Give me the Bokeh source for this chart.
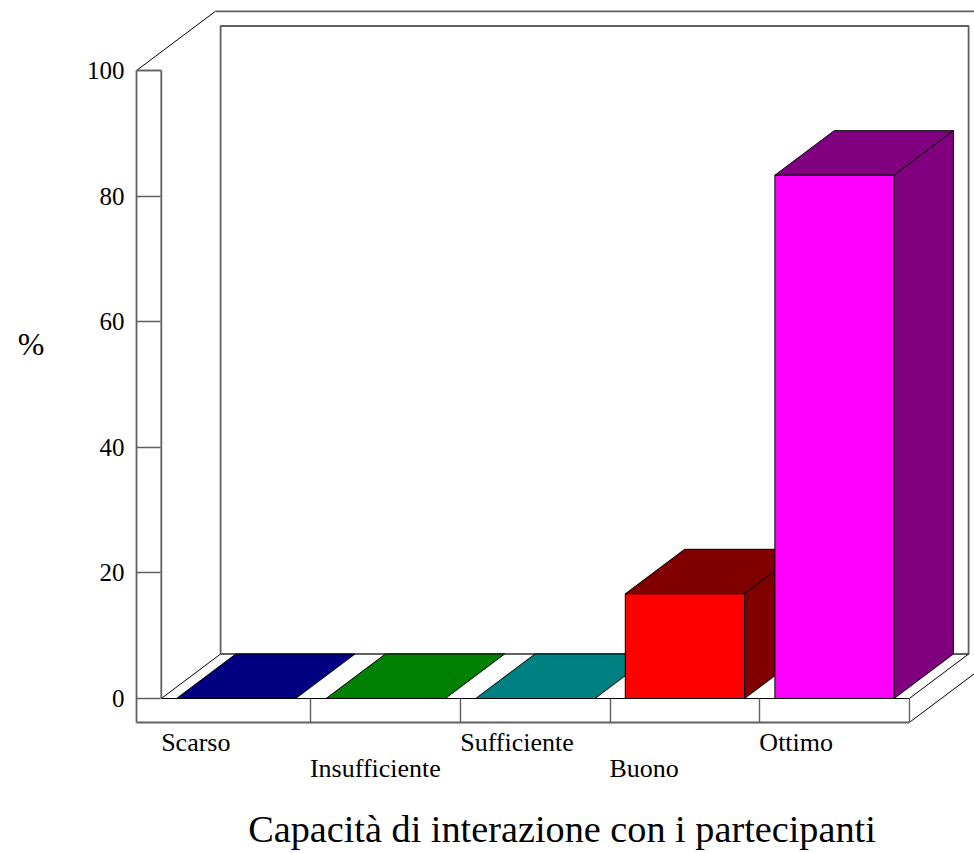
from bokeh.plotting import figure
from bokeh.models import FixedTicker, LinearAxis, Range1d
from bokeh.embed import file_html
from bokeh.resources import INLINE

categories = ["Scarso", "Insufficiente", "Sufficiente", "Buono", "Ottimo"]
label_widths_px = [69, 129, 113, 68, 73]
values = [0, 0, 0, 16.67, 83.33]
front_colors = ["#000080", "#008000", "#008080", "#FF0000", "#FF00FF"]
depth_colors = ["#000080", "#008000", "#008080", "#800000", "#800080"]
y_ticks = [0, 20, 40, 60, 80, 100]
x_title = "Capacità di interazione con i partecipanti"
y_title = "%"

FONT = "Liberation Serif"
PX_X = 149.6            # px per category
PX_Y = 6.28             # px per percent
DX = 59.3 / PX_X        # depth offset in category units
DY = 44.5 / PX_Y        # depth offset in percent units
TX = 24.8 / PX_X        # thickness of the axis strip
TY = 24.0 / PX_Y
KO = 1.33               # outer depth factor
N = len(categories)
BAR_W = 0.797

x_start = -TX
x_end = (974 - 160.8) / PX_X
y_start = -TY
y_end = 100 + 70 / PX_Y

p = figure(width=974, height=853, output_backend="svg", toolbar_location=None,
           x_range=Range1d(x_start, x_end), y_range=Range1d(y_start, y_end),
           min_border_left=136, min_border_right=0, min_border_top=0, min_border_bottom=131,
           background_fill_color="white", outline_line_color=None)
p.grid.visible = False

WALL = "#606060"
ya = p.yaxis[0]
ya.ticker = FixedTicker(ticks=y_ticks)
ya.bounds = (y_start, 100)
ya.major_tick_in = 24
ya.major_tick_out = 0
ya.minor_tick_line_color = None
ya.axis_line_color = WALL
ya.axis_line_width = 1.8
ya.major_tick_line_color = WALL
ya.major_tick_line_width = 1.4
ya.major_label_standoff = 12
ya.major_label_text_font = FONT
ya.major_label_text_font_size = "25px"
ya.major_label_text_color = "black"

xa = p.xaxis[0]
xa.ticker = FixedTicker(ticks=list(range(1, N + 1)))
xa.bounds = (x_start, N)
xa.major_tick_in = 24
xa.major_tick_out = 0
xa.minor_tick_line_color = None
xa.axis_line_color = WALL
xa.axis_line_width = 1.8
xa.major_tick_line_color = WALL
xa.major_tick_line_width = 1.4
xa.major_label_standoff = 0
xa.major_label_text_font_size = "1px"
xa.major_label_overrides = {i: "" for i in range(1, N + 1)}


def text_axis(side, ticks, labels, standoff, size):
    ax = LinearAxis(ticker=FixedTicker(ticks=ticks),
                    major_label_overrides=dict(zip(ticks, labels)),
                    major_label_standoff=standoff,
                    major_label_text_font=FONT, major_label_text_font_size=size,
                    major_label_text_color="black",
                    axis_line_color=None, major_tick_line_color=None,
                    minor_tick_line_color=None, major_tick_in=0, major_tick_out=0)
    p.add_layout(ax, side)
    return ax


centres = [i + w / 2 / PX_X for i, w in enumerate(label_widths_px)]
text_axis("below", centres[0::2], categories[0::2], 5, "26px")
text_axis("below", centres[1::2], categories[1::2], -6, "26px")
text_axis("below", [(561.5 - 160.8) / PX_X], [x_title], 22, "38.25px")
text_axis("left", [(698 - 343) / PX_Y], [y_title], 39, "32px")

wx = [[DX, DX, N + DX, N + DX, DX],
      [0, DX], [0, N], [N, N + DX],
      [0, 0], [x_start, 0],
      [x_start, x_start + KO * DX],
      [x_start + KO * DX, x_end + 1],
      [N, N + KO * DX]]
wy = [[DY, 100 + DY, 100 + DY, DY, DY],
      [0, DY], [0, 0], [0, DY],
      [0, 100], [100, 100],
      [100, 100 + KO * DY],
      [100 + KO * DY, 100 + KO * DY],
      [y_start, y_start + KO * DY]]
wc = [WALL, "black", "black", "black", WALL, WALL, "black", WALL, "black"]
ww = [1.8, 1, 1, 1, 1.8, 1.4, 1, 1.8, 1]
p.multi_line(wx, wy, line_color=wc, line_width=ww)

left = [i + (1 - BAR_W) / 2 for i in range(N)]
right = [l + BAR_W for l in left]

top_xs = [[l, l + DX, r + DX, r] for l, r in zip(left, right)]
top_ys = [[v, v + DY, v + DY, v] for v in values]
side_idx = [i for i, v in enumerate(values) if v > 0]
side_xs = [[right[i], right[i] + DX, right[i] + DX, right[i]] for i in side_idx]
side_ys = [[0, DY, values[i] + DY, values[i]] for i in side_idx]

p.patches(top_xs, top_ys, fill_color=depth_colors, line_color="black", line_width=1)
p.patches(side_xs, side_ys, fill_color=[depth_colors[i] for i in side_idx],
          line_color="black", line_width=1)
p.vbar(x=[l + BAR_W / 2 for l in left], width=BAR_W, bottom=0, top=values,
       fill_color=front_colors, line_color="black", line_width=1)

open("out.html", "w").write(file_html(p, INLINE))
